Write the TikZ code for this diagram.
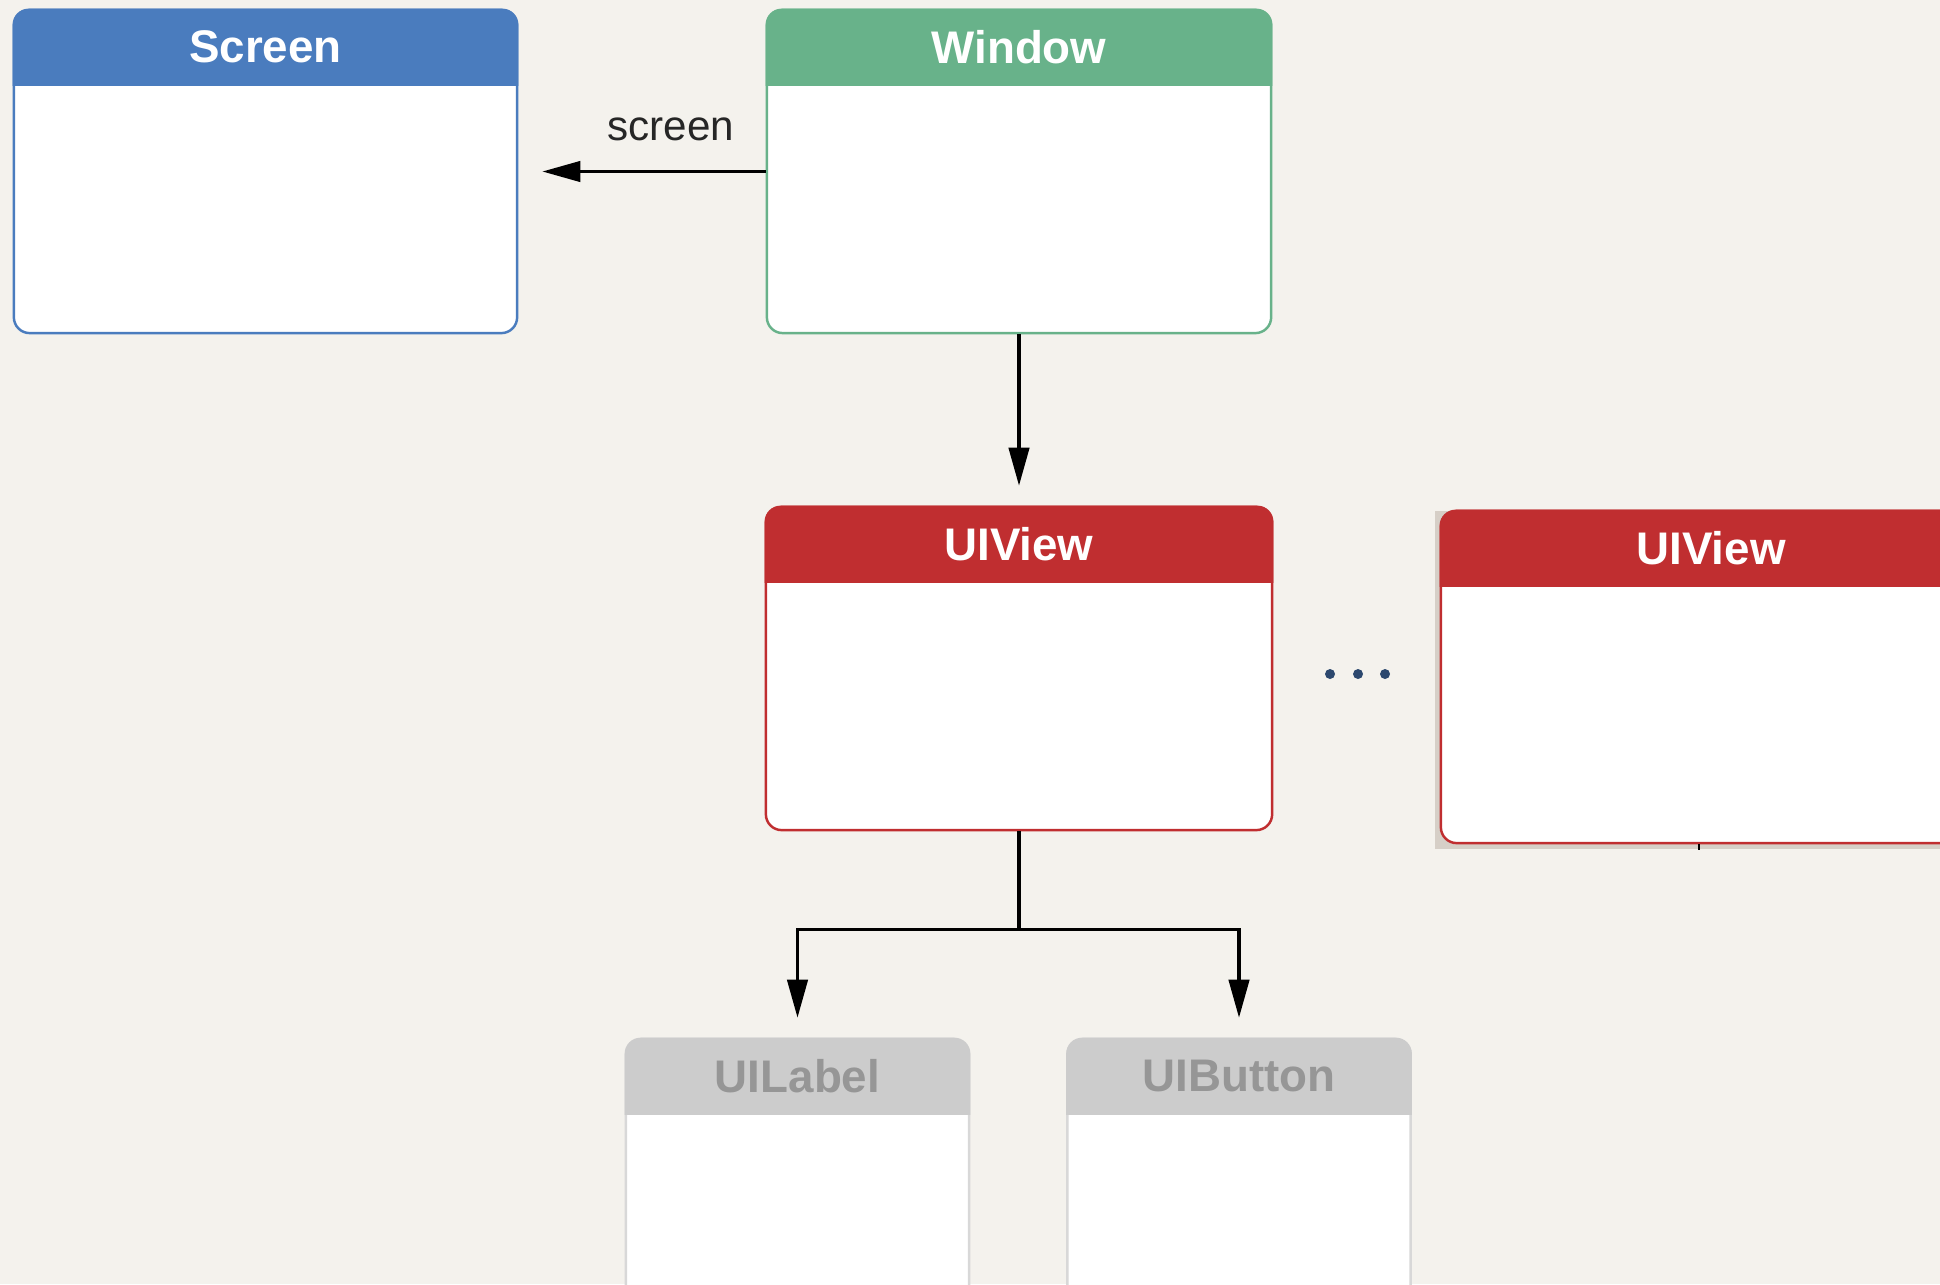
\documentclass[tikz,border=0pt]{standalone}
\usepackage{fontspec}
\setmainfont{Liberation Sans}
\usetikzlibrary{arrows.meta,positioning}

\definecolor{paper}{RGB}{244,242,237}
\definecolor{screenblue}{RGB}{74,124,190}
\definecolor{windowgreen}{RGB}{104,178,138}
\definecolor{viewred}{RGB}{192,46,48}
\definecolor{subgray}{RGB}{204,204,204}
\definecolor{subedge}{RGB}{216,216,216}
\definecolor{subtext}{RGB}{150,150,150}
\definecolor{dotblue}{RGB}{44,72,110}
\definecolor{pasteback}{RGB}{214,207,199}

% coloured title strip across the top of a class box
\newcommand{\boxheader}[2]{%
  \begin{scope}
    \clip (#1.north west) rectangle ([yshift=-0.77cm]#1.north east);
    \fill[#2, rounded corners=4.5pt] (#1.north west) rectangle (#1.south east);
  \end{scope}}

\tikzset{
  classbox/.style={draw=#1, line width=0.7pt, fill=white, rounded corners=4.5pt, inner sep=0pt},
  title/.style={font=\bfseries\fontsize{13}{15}\selectfont, text=white},
  link/.style={-{Triangle[length=10.8pt,width=5.8pt]}, line width=0.9pt, draw=black},
  dot/.style={circle, fill=dotblue, inner sep=0pt, minimum size=0.1cm},
}

\begin{document}
\begin{tikzpicture}[x=0.01cm, y=-0.01cm]
    % Page
    \useasboundingbox (0,0) rectangle (1940,1284);
    \clip (0,0) rectangle (1940,1284);
    \fill[paper] (0,0) rectangle (1940,1284);

    % Screen and Window
    \node[classbox=screenblue, minimum width=5.03cm, minimum height=3.23cm] (screen) at (265.5,171.5) {};
    \boxheader{screen}{screenblue}
    \node[title] (screen-title) at ([yshift=-0.385cm]screen.north) {Screen};

    \node[classbox=windowgreen, minimum width=5.04cm, minimum height=3.23cm] (window) at (1019,171.5) {};
    \boxheader{window}{windowgreen}
    \node[title] (window-title) at ([yshift=-0.385cm]window.north) {Window};

    % Root views
    \node[classbox=viewred, minimum width=5.06cm, minimum height=3.23cm] (uiview) at (1019,668.5) {};
    \boxheader{uiview}{viewred}
    \node[title] (uiview-title) at ([yshift=-0.385cm]uiview.north) {UIView};

    \fill[pasteback] (1435,511) rectangle (1940,849);
    \node[classbox=viewred, minimum width=5.40cm, minimum height=3.32cm] (uiview2) at (1711,677) {};
    \boxheader{uiview2}{viewred}
    \node[title] (uiview2-title) at ([yshift=-0.385cm]uiview2.north) {UIView};
    \draw[line width=0.8pt] ([xshift=-0.12cm]uiview2.south) -- ++(0,6);

    \foreach \x [count=\i] in {1330,1358,1385}
        \node[dot] (dot\i) at (\x,674) {};

    % Subviews
    \node[classbox=subedge, minimum width=3.43cm, minimum height=3.23cm] (uilabel) at (797.5,1200.5) {};
    \boxheader{uilabel}{subgray}
    \node[title, text=subtext] (uilabel-title) at ([yshift=-0.385cm]uilabel.north) {UILabel};

    \node[classbox=subedge, minimum width=3.43cm, minimum height=3.23cm] (uibutton) at (1239,1200.5) {};
    \boxheader{uibutton}{subgray}
    \node[title, text=subtext] (uibutton-title) at ([yshift=-0.385cm]uibutton.north) {UIButton};

    % Links
    \draw[link, shorten >=0.24cm] (window.west) -- (screen.east)
        node[pos=0.384, above=5pt, text=black!85, font=\fontsize{12}{14}\selectfont] (screen-label) {screen};
    \draw[link, shorten >=0.2cm] (window.south) -- (uiview.north);
    \draw[link, shorten >=0.2cm] (uiview.south) -- ++(0,98) -| (uilabel.north);
    \draw[link, shorten >=0.2cm] (uiview.south) -- ++(0,98) -| (uibutton.north);
\end{tikzpicture}
\end{document}
